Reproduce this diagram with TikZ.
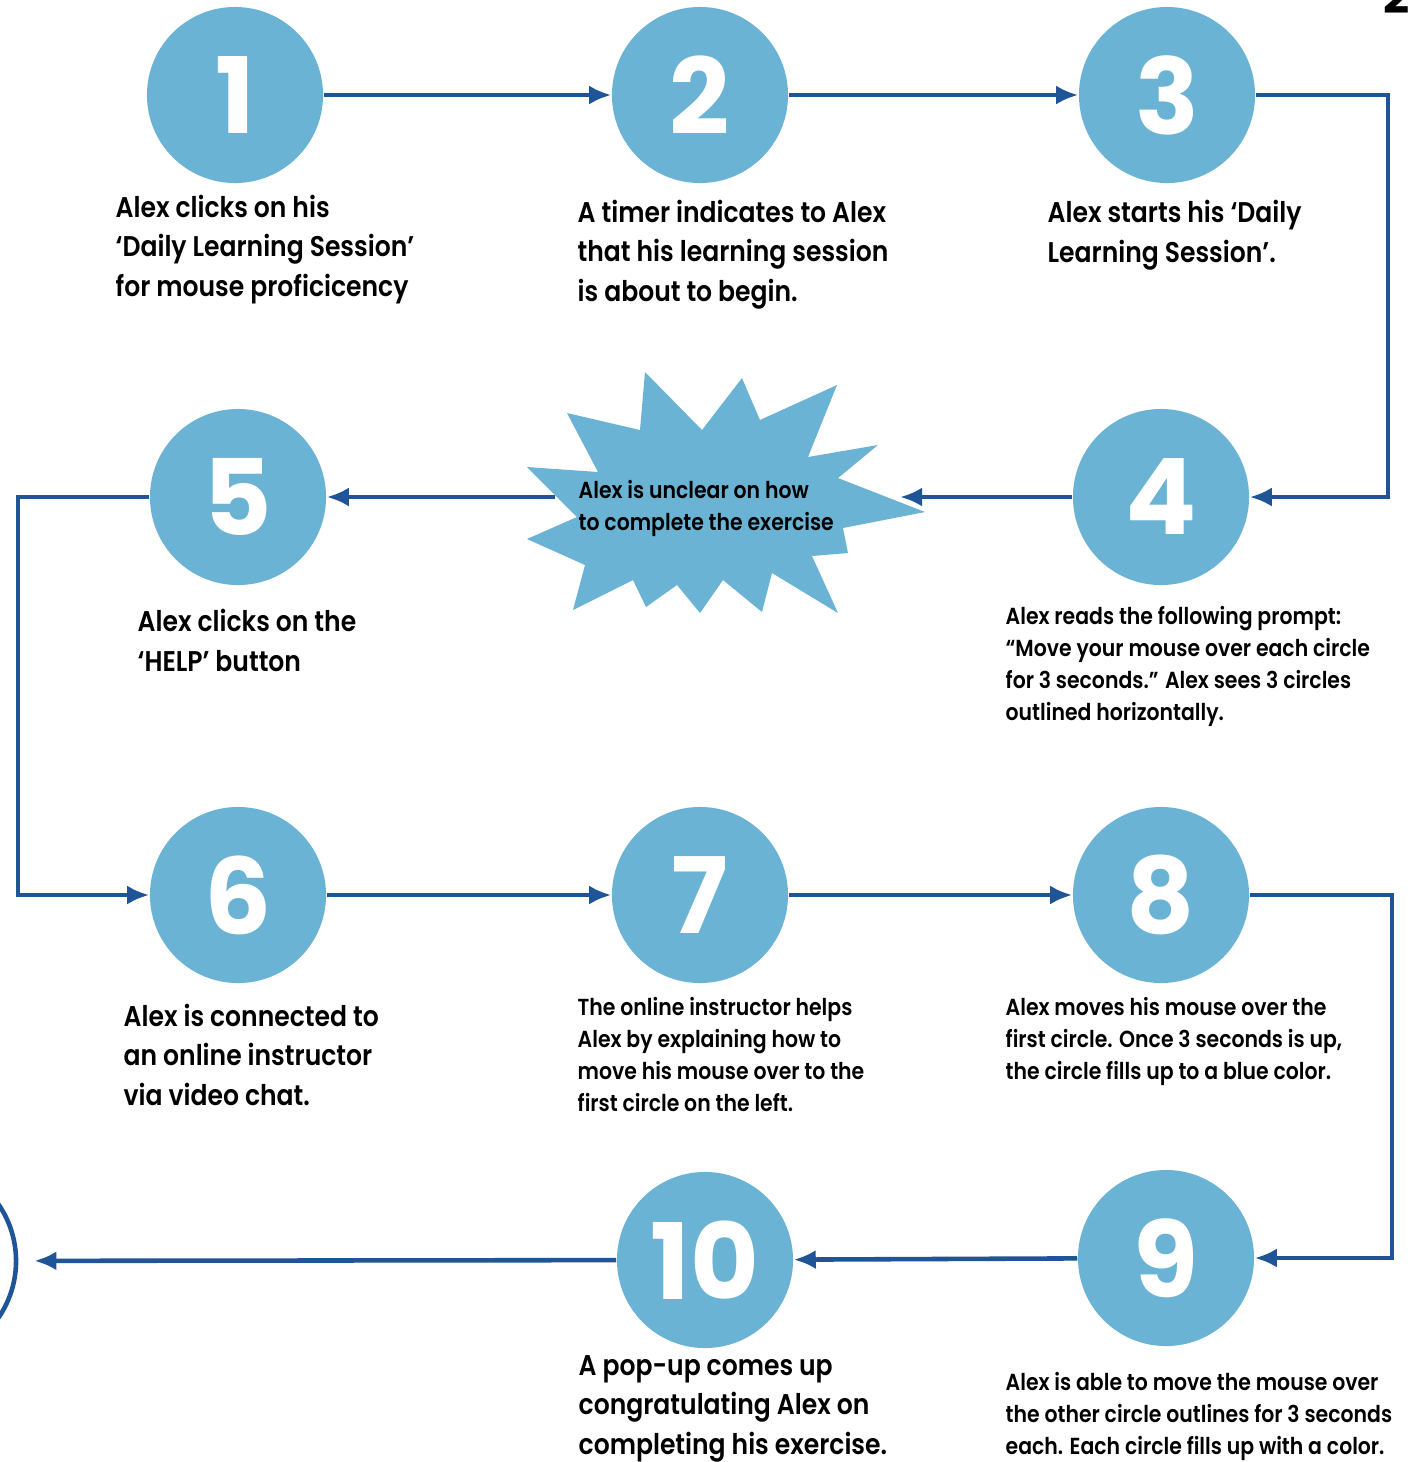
\documentclass[tikz,border=0pt]{standalone}
\usepackage{fontspec}
\setmainfont{Poppins}[UprightFont=* SemiBold, FakeStretch=0.88]
\newfontfamily\numfont{Poppins}
\usetikzlibrary{arrows.meta}
\definecolor{stepblue}{HTML}{6AB3D4}
\definecolor{linkblue}{HTML}{1F5597}
\tikzset{
  num/.style={circle, fill=stepblue, minimum size=1.76cm, inner sep=0pt, text=white,
    font=\numfont\fontsize{30}{30}\selectfont\bfseries},
  txt/.style={anchor=base west, align=left, inner sep=0pt, font=\fontsize{8.1}{11.1}\selectfont},
  smalltxt/.style={anchor=base west, align=left, inner sep=0pt, font=\fontsize{6.6}{9.1}\selectfont},
  flow/.style={draw=linkblue, line width=1.3pt, -{Latex[length=0.22cm,width=0.19cm]}},
}
\begin{document}
\begin{tikzpicture}[x=0.01cm, y=-0.01cm]
            \useasboundingbox (0,0) rectangle (1410,1462);
            \node[anchor=base west, inner sep=0pt, font=\numfont\fontsize{13}{13}\selectfont\bfseries] (pg) at (1383,13) {2};

            % steps
            \node[num] (n1) at (235,95) {1};
            \node[num] (n2) at (700,95) {2};
            \node[num] (n3) at (1167,95) {3};
            \node[num] (n4) at (1161,497) {4};
            \node[num] (n5) at (238,497) {5};
            \node[num] (n6) at (238,895) {6};
            \node[num] (n7) at (700,895) {7};
            \node[num] (n8) at (1161,895) {8};
            \node[num] (n9) at (1166,1258) {9};
            \node[num] (n10) at (705,1260) {10};
            \node[circle, draw=linkblue, line width=1.3pt, minimum size=2cm] (n11) at (-84,1261) {};

            % burst
            \fill[stepblue] (527,467) -- (598,472) -- (567,413) -- (640,430) -- (645,372) -- (702,430)
              -- (742,378) -- (760,420) -- (837,385) -- (808,457) -- (878,445) -- (838,478)
              -- (925,512) -- (843,528) -- (848,553) -- (812,556) -- (838,613) -- (772,573)
              -- (762,612) -- (723,580) -- (700,613) -- (677,585) -- (646,607) -- (633,580)
              -- (573,610) -- (585,565) -- (527,539) -- (577,517) -- cycle;
            \coordinate (bR) at (900,497);
            \coordinate (bL) at (555,497);
            \node[smalltxt] (burst) at (578,530) {Alex is unclear on how\\to complete the exercise};

            % corners
            \coordinate (k3) at (1388,95);
            \coordinate (k5) at (18,497);
            \coordinate (k8) at (1392,895);

            \draw[flow] (n1) -- (n2);
            \draw[flow] (n2) -- (n3);
            \draw[flow] (n3) -- (k3) |- (n4);
            \draw[flow] (n4) -- (bR);
            \draw[flow] (bL) -- (n5);
            \draw[flow] (n5) -- (k5) |- (n6);
            \draw[flow] (n6) -- (n7);
            \draw[flow] (n7) -- (n8);
            \draw[flow] (n8) -- (k8) |- (n9);
            \draw[flow] (n9) -- (n10);
            \draw[flow, shorten >=0.16cm] (n10) -- (n11);

            % labels (anchored at the baseline of the last line)
            \node[txt] (t1) at (115,296) {Alex clicks on his\\‘Daily Learning Session’\\for mouse proficicency};
            \node[txt] (t2) at (577,301) {A timer indicates to Alex\\that his learning session\\is about to begin.};
            \node[txt] (t3) at (1047,262) {Alex starts his ‘Daily\\Learning Session’.};
            \node[smalltxt] (t4) at (1005,720) {Alex reads the following prompt:\\“Move your mouse over each circle\\for 3 seconds.” Alex sees 3 circles\\outlined horizontally.};
            \node[txt] (t5) at (137,671) {Alex clicks on the\\‘HELP’ button};
            \node[txt] (t6) at (123,1105) {Alex is connected to\\an online instructor\\via video chat.};
            \node[smalltxt] (t7) at (577,1111) {The online instructor helps\\Alex by explaining how to\\move his mouse over to the\\first circle on the left.};
            \node[smalltxt] (t8) at (1005,1079) {Alex moves his mouse over the\\first circle. Once 3 seconds is up,\\the circle fills up to a blue color.};
            \node[smalltxt] (t9) at (1005,1454) {Alex is able to move the mouse over\\the other circle outlines for 3 seconds\\each. Each circle fills up with a color.};
            \node[txt] (t10) at (578,1454) {A pop-up comes up\\congratulating Alex on\\completing his exercise.};
\end{tikzpicture}
\end{document}
